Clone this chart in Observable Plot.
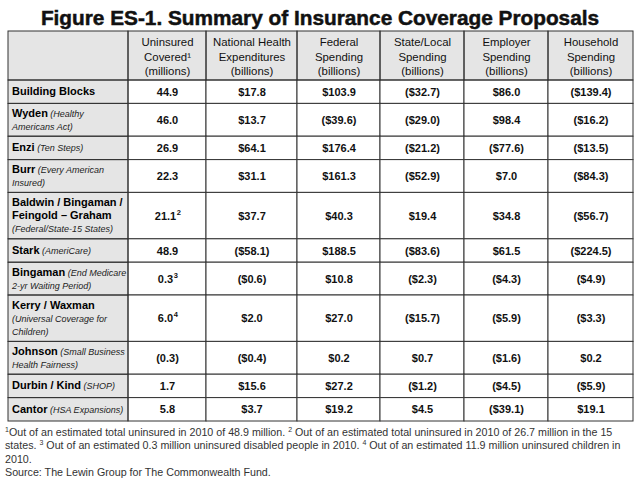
<!DOCTYPE html>
<html><head><meta charset="utf-8">
<script src="https://cdn.jsdelivr.net/npm/d3@7"></script>
<script src="https://cdn.jsdelivr.net/npm/@observablehq/plot@0.6"></script>
<style>
body{margin:0;background:#fff;font-family:"Liberation Sans",Arial,sans-serif;width:640px;overflow:hidden;}
#title{height:30px;line-height:35px;text-align:center;font-size:20.8px;font-weight:bold;color:#111;-webkit-text-stroke:0.5px #111;white-space:nowrap;}
#chart svg{display:block;}
#notes{padding-left:5px;padding-top:4px;font-size:10.7px;line-height:13.3px;color:#333;}
#notes div{white-space:nowrap;height:13.3px;}
#notes sup{font-size:7px;vertical-align:4px;line-height:0;}
</style></head>
<body><div id="title"></div><div id="chart"></div><div id="notes"></div>
<script>
// ---------- data ----------
const title = "Figure ES-1. Summary of Insurance Coverage Proposals";
const columnHeaders = [
  "Uninsured\nCovered¹\n(millions)",
  "National Health\nExpenditures\n(billions)",
  "Federal\nSpending\n(billions)",
  "State/Local\nSpending\n(billions)",
  "Employer\nSpending\n(billions)",
  "Household\nSpending\n(billions)"
];
const proposals = [
  "Building Blocks", "Wyden", "Enzi", "Burr", "Baldwin / Bingaman /\nFeingold – Graham",
  "Stark", "Bingaman", "Kerry / Waxman", "Johnson", "Durbin / Kind", "Cantor"
];
const proposalNotes = [
  "", "(Healthy\nAmericans Act)", "(Ten Steps)", "(Every American\nInsured)", "\n(Federal/State-15 States)",
  "(AmeriCare)", "(End Medicare\n2-yr Waiting Period)", "\n(Universal Coverage for\nChildren)",
  "(Small Business\nHealth Fairness)", "(SHOP)", "(HSA Expansions)"
];
const uninsuredCovered = [44.9, 46.0, 26.9, 22.3, 21.1, 48.9, 0.3, 6.0, -0.3, 1.7, 5.8];
const uninsuredFootnote = ["", "", "", "", "2", "", "3", "4", "", "", ""];
const nationalHealth = [17.8, 13.7, 64.1, 31.1, 37.7, -58.1, -0.6, 2.0, -0.4, 15.6, 3.7];
const federalSpending = [103.9, -39.6, 176.4, 161.3, 40.3, 188.5, 10.8, 27.0, 0.2, 27.2, 19.2];
const stateLocalSpending = [-32.7, -29.0, -21.2, -52.9, 19.4, -83.6, -2.3, -15.7, 0.7, -1.2, 4.5];
const employerSpending = [86.0, 98.4, -77.6, 7.0, 34.8, 61.5, -4.3, -5.9, -1.6, -4.5, -39.1];
const householdSpending = [-139.4, -16.2, -13.5, -84.3, -56.7, -224.5, -4.9, -3.3, 0.2, -5.9, 19.1];
const footnoteLines = [
  "{1}Out of an estimated total uninsured in 2010 of 48.9 million. {2} Out of an estimated total uninsured in 2010 of 26.7 million in the 15",
  "states. {3} Out of an estimated 0.3 million uninsured disabled people in 2010. {4} Out of an estimated 11.9 million uninsured children in",
  "2010.",
  "Source: The Lewin Group for The Commonwealth Fund."
];

// ---------- layout (not data) ----------
const colWidths = [120, 78, 91, 83, 84, 84, 85];
const headerHeight = 49;
const rowHeightByLines = {1: 23.4, 2: 32.8, 3: 46.4};
const FONT = "'Liberation Sans', Arial, sans-serif";

// ---------- build table ----------
const fmtMillions = v => v < 0 ? `(${Math.abs(v).toFixed(1)})` : v.toFixed(1);
const fmtBillions = v => v < 0 ? `($${Math.abs(v).toFixed(1)})` : `$${v.toFixed(1)}`;
const ctx = document.createElement("canvas").getContext("2d");
ctx.font = "bold 11px 'Liberation Sans', Arial, sans-serif";
const textWidth = t => ctx.measureText(t).width;

const colStart = [0];
colWidths.forEach(w => colStart.push(colStart[colStart.length - 1] + w));
const totalW = colStart[colStart.length - 1];
const colMid = c => (colStart[c] + colStart[c + 1]) / 2;

const labelRows = proposals.map((name, i) => {
  const lines = name.split("\n").map(t => [{text: t, italic: false}]);
  const parts = proposalNotes[i].split("\n");
  if (parts[0]) lines[lines.length - 1].push({text: " " + parts[0], italic: true});
  parts.slice(1).forEach(p => lines.push([{text: p, italic: true}]));
  return {name, lines};
});

let acc = headerHeight;
labelRows.forEach(r => {
  r.y1 = acc;
  acc += rowHeightByLines[r.lines.length];
  r.y2 = acc;
  r.mid = (r.y1 + r.y2) / 2;
});
const totalH = acc;

const series = [
  uninsuredCovered.map(fmtMillions),
  nationalHealth.map(fmtBillions),
  federalSpending.map(fmtBillions),
  stateLocalSpending.map(fmtBillions),
  employerSpending.map(fmtBillions),
  householdSpending.map(fmtBillions)
];

const grayCells = [{x1: 0, x2: totalW, y1: 0, y2: headerHeight}];
const whiteCells = [];
labelRows.forEach(r => {
  grayCells.push({x1: colStart[0], x2: colStart[1], y1: r.y1, y2: r.y2});
  for (let c = 1; c < colWidths.length; c++) whiteCells.push({x1: colStart[c], x2: colStart[c + 1], y1: r.y1, y2: r.y2});
});
const headerCellBorders = colWidths.map((w, c) => ({x1: colStart[c], x2: colStart[c + 1], y1: 0, y2: headerHeight}));

const headerTexts = columnHeaders.map((t, c) => ({x: colMid(c + 1), y: headerHeight / 2, text: t}));
const valueTexts = [];
const footnoteMarks = [];
series.forEach((vals, c) => vals.forEach((t, i) => {
  const mark = c === 0 ? uninsuredFootnote[i] : "";
  const x = colMid(c + 1) - (mark ? 2 : 0);
  valueTexts.push({x, y: labelRows[i].mid, text: t});
  if (mark) footnoteMarks.push({x: x + textWidth(t) / 2 + 0.5, y: labelRows[i].mid, text: mark});
}));

function rowLabels(index, scales) {
  const g = d3.create("svg:g").attr("font-family", FONT).attr("text-anchor", "start");
  labelRows.forEach(r => {
    const n = r.lines.length;
    r.lines.forEach((segs, i) => {
      const t = g.append("text")
        .attr("x", scales.x(colStart[0]) + 4)
        .attr("y", scales.y(r.mid) + (i - (n - 1) / 2) * 13.2)
        .attr("dy", "0.35em")
        .attr("text-anchor", "start")
        .style("white-space", "pre");
      segs.forEach(s => t.append("tspan")
        .attr("font-weight", s.italic ? "normal" : "bold")
        .attr("font-style", s.italic ? "italic" : "normal")
        .attr("font-size", s.italic ? 9 : 11)
        .attr("fill", s.italic ? "#222" : "#000")
        .text(s.text));
    });
  });
  return g.node();
}

const stroke = "#333";
const chart = Plot.plot({
  width: 640,
  height: 392,
  margin: 0,
  x: {type: "linear", domain: [0, totalW], range: [8, 633], axis: null},
  y: {type: "linear", domain: [0, totalH], range: [1, 391], axis: null},
  style: {fontFamily: FONT, background: "white", overflow: "visible"},
  marks: [
    Plot.rect(grayCells, {x1: "x1", x2: "x2", y1: "y1", y2: "y2", fill: "#e5e5e5"}),
    Plot.rect(whiteCells, {x1: "x1", x2: "x2", y1: "y1", y2: "y2", fill: "white", stroke, strokeWidth: 1}),
    Plot.rect(grayCells.slice(1), {x1: "x1", x2: "x2", y1: "y1", y2: "y2", fill: "none", stroke, strokeWidth: 1}),
    Plot.rect(headerCellBorders, {x1: "x1", x2: "x2", y1: "y1", y2: "y2", fill: "none", stroke, strokeWidth: 1}),
    Plot.text(headerTexts, {x: "x", y: "y", text: "text", fontSize: 11.4, lineHeight: 1.27, fill: "#111"}),
    Plot.text(valueTexts, {x: "x", y: "y", text: "text", fontSize: 11, fontWeight: "bold", fill: "#111"}),
    Plot.text(footnoteMarks, {x: "x", y: "y", text: "text", dy: -4, textAnchor: "start", fontSize: 7.5, fontWeight: "bold", fill: "#111"}),
    rowLabels
  ]
});
document.getElementById("chart").appendChild(chart);
document.getElementById("title").textContent = title;
const notes = document.getElementById("notes");
footnoteLines.forEach(line => {
  const div = document.createElement("div");
  line.split(/(\{\d\})/).forEach(part => {
    const m = part.match(/^\{(\d)\}$/);
    if (m) { const s = document.createElement("sup"); s.textContent = m[1]; div.appendChild(s); }
    else if (part) div.appendChild(document.createTextNode(part));
  });
  notes.appendChild(div);
});
</script>
</body></html>
